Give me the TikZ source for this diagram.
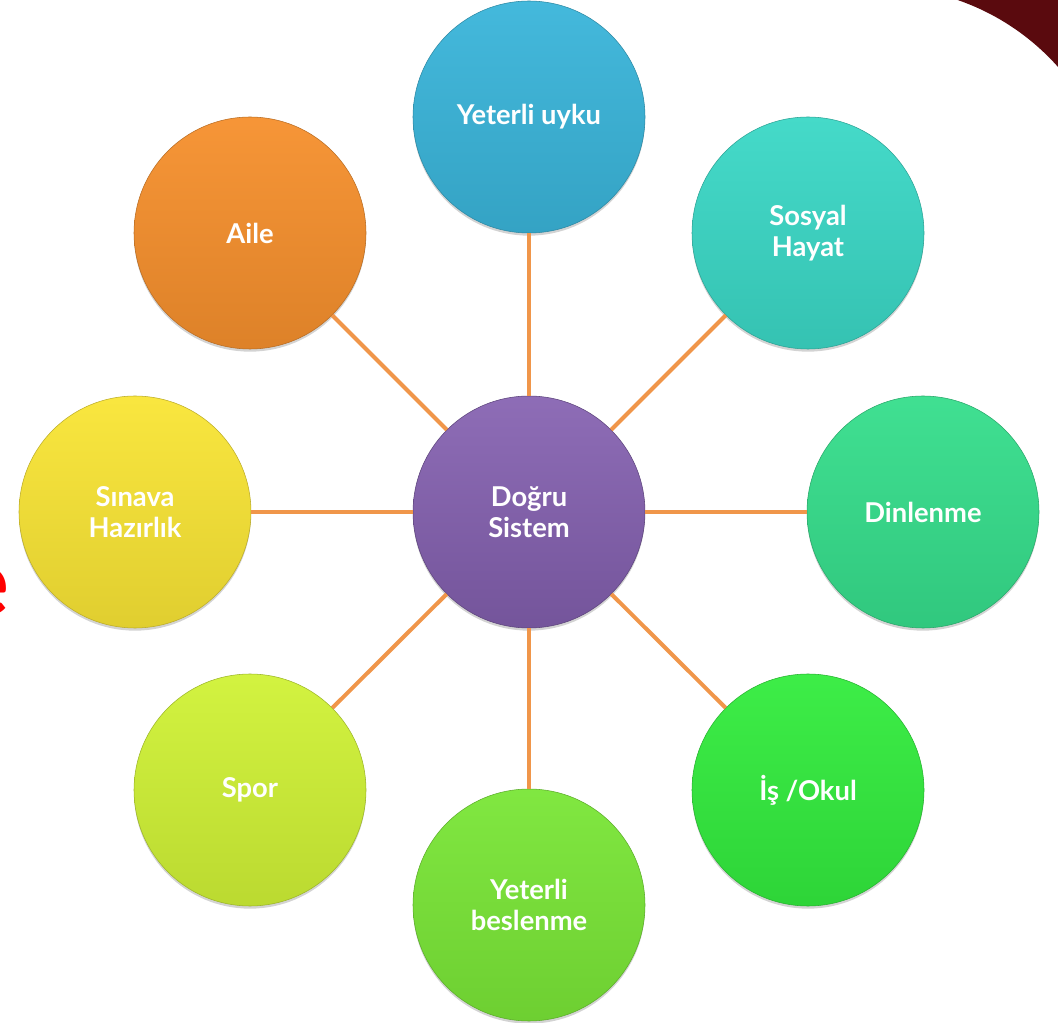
\documentclass[tikz,border=0pt]{standalone}
\usepackage{fontspec}
\setmainfont{Lato}
\usetikzlibrary{shadows}
\definecolor{cuyku}{HTML}{3AB5DA}
\definecolor{csosyal}{HTML}{3BD8C6}
\definecolor{cdinlen}{HTML}{36DE8C}
\definecolor{cokul}{HTML}{33EC3E}
\definecolor{cbeslen}{HTML}{7AE637}
\definecolor{cspor}{HTML}{D0F236}
\definecolor{csinav}{HTML}{F9E535}
\definecolor{caile}{HTML}{F6902D}
\definecolor{cmerkez}{HTML}{8460B0}
\definecolor{cbag}{HTML}{F0964A}
\definecolor{ckose}{HTML}{5A0A0E}
\begin{document}
\begin{tikzpicture}[x=0.75pt, y=-0.75pt]

	\tikzstyle{ball}=[circle, minimum size = 174pt, inner sep = 0pt, align = center, text = white,
	  font = \fontsize{20.5}{23}\selectfont\bfseries, drop shadow={shadow xshift=0pt, shadow yshift=-2pt, opacity=0.35}]
	\tikzstyle{bag}=[cbag, line width = 3pt]

	\useasboundingbox (0,0) rectangle (1058,1023);
	\clip (0,0) rectangle (1058,1023);

	% kenar parcalari
	\fill[ckose] (957.6,0) arc[start angle=-71, end angle=-41.6, radius=238] -- (1062,67) -- (1062,-2) -- (957.6,-2) -- cycle;
	\node[text = red, font = \fontsize{70}{70}\selectfont\bfseries, anchor = east] (harf) at (14,592) {e};

	% daireler
	\node[ball, top color=cmerkez!92!white, bottom color=cmerkez!88!black, draw=cmerkez!70!black] (merkez) at (529,512) {Doğru\\Sistem};
	\node[ball, top color=cuyku!95!white, bottom color=cuyku!90!black, draw=cuyku!75!black] (uyku) at (529,117) {Yeterli uyku};
	\node[ball, top color=csosyal!95!white, bottom color=csosyal!90!black, draw=csosyal!75!black] (sosyal) at (808,233) {Sosyal\\Hayat};
	\node[ball, top color=cdinlen!95!white, bottom color=cdinlen!90!black, draw=cdinlen!75!black] (dinlen) at (923,512) {Dinlenme};
	\node[ball, top color=cokul!95!white, bottom color=cokul!90!black, draw=cokul!75!black] (okul) at (808,790) {İş /Okul};
	\node[ball, top color=cbeslen!95!white, bottom color=cbeslen!90!black, draw=cbeslen!75!black] (beslen) at (529,905) {Yeterli\\beslenme};
	\node[ball, top color=cspor!95!white, bottom color=cspor!90!black, draw=cspor!75!black] (spor) at (250,790) {Spor};
	\node[ball, top color=csinav!95!white, bottom color=csinav!90!black, draw=csinav!75!black] (sinav) at (135,512) {Sınava\\Hazırlık};
	\node[ball, top color=caile!95!white, bottom color=caile!90!black, draw=caile!75!black] (aile) at (250,233) {Aile};

	% baglantilar
	\draw[bag] (merkez) -- (uyku);
	\draw[bag] (merkez) -- (sosyal);
	\draw[bag] (merkez) -- (dinlen);
	\draw[bag] (merkez) -- (okul);
	\draw[bag] (merkez) -- (beslen);
	\draw[bag] (merkez) -- (spor);
	\draw[bag] (merkez) -- (sinav);
	\draw[bag] (merkez) -- (aile);

\end{tikzpicture}
\end{document}
